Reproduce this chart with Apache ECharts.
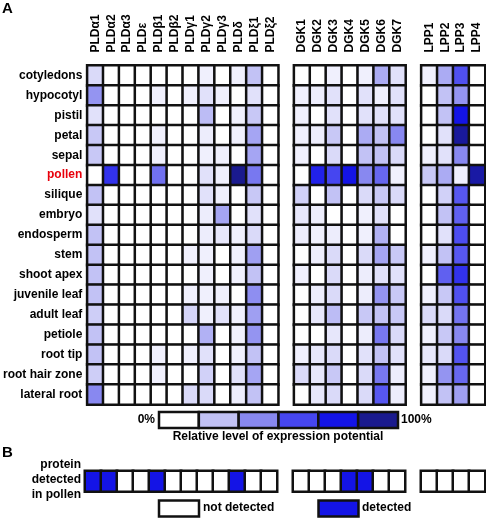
<!DOCTYPE html>
<html>
<head>
<meta charset="utf-8">
<script src="https://cdn.jsdelivr.net/npm/echarts@6/dist/echarts.min.js"></script>
<style>html,body{margin:0;padding:0;background:#fff}#c{width:486px;height:520px}</style>
</head>
<body>
<div id="c"></div>
<script>
const tissues = ['cotyledons','hypocotyl','pistil','petal','sepal','pollen','silique','embryo','endosperm','stem','shoot apex','juvenile leaf','adult leaf','petiole','root tip','root hair zone','lateral root'];
const pldGenes = ['PLDα1','PLDα2','PLDα3','PLDε','PLDβ1','PLDβ2','PLDγ1','PLDγ2','PLDγ3','PLDδ','PLDξ1','PLDξ2'];
const dgkGenes = ['DGK1','DGK2','DGK3','DGK4','DGK5','DGK6','DGK7'];
const lppGenes = ['LPP1','LPP2','LPP3','LPP4'];

// expression potential (%), rows follow tissues
const pldValues = [
  [12,0,0,0,0,0,0,5,0,5,20,0],
  [36,0,0,0,5,0,5,10,5,0,10,0],
  [10,0,0,0,0,0,0,22,0,5,18,0],
  [18,0,0,0,5,0,0,6,0,5,30,0],
  [18,0,0,0,5,0,0,5,5,0,30,0],
  [0,68,0,0,47,0,0,10,5,100,45,0],
  [20,0,0,0,0,0,0,10,5,0,18,0],
  [10,0,0,0,0,0,0,6,30,0,10,0],
  [20,0,0,0,0,0,0,6,8,5,12,0],
  [20,0,0,0,0,0,5,5,0,5,32,0],
  [20,0,0,0,0,0,0,5,0,5,20,0],
  [20,0,0,0,0,0,5,5,5,0,38,0],
  [16,0,0,0,0,0,14,5,10,5,32,0],
  [20,0,0,0,0,0,0,26,0,5,36,0],
  [20,0,0,0,5,0,5,10,0,5,20,0],
  [16,0,0,0,5,0,0,15,0,10,30,0],
  [40,0,0,0,0,0,12,12,0,6,20,0]
];
const dgkValues = [
  [0,0,5,0,5,28,10],
  [5,6,10,0,10,5,10],
  [5,0,10,0,10,10,10],
  [5,6,18,0,28,20,40],
  [5,0,12,0,20,20,12],
  [0,75,60,80,40,50,5],
  [15,0,20,0,12,18,12],
  [8,6,0,0,5,10,0],
  [6,5,6,0,5,26,0],
  [0,6,12,0,12,30,18],
  [5,0,12,0,6,10,10],
  [0,6,12,0,6,36,18],
  [0,8,22,0,18,20,18],
  [0,0,8,0,6,45,12],
  [5,8,12,0,10,20,10],
  [12,8,18,0,12,45,6],
  [0,8,12,0,12,55,6]
];
const lppValues = [
  [5,28,57,0],
  [0,20,36,0],
  [0,20,80,0],
  [0,10,97,0],
  [5,10,40,0],
  [18,28,5,95],
  [0,15,55,0],
  [0,20,52,0],
  [0,10,58,0],
  [5,20,55,0],
  [0,52,68,0],
  [5,18,57,0],
  [12,12,46,0],
  [5,18,40,0],
  [8,12,56,0],
  [5,36,50,0],
  [5,20,32,0]
];
// protein detected in pollen (1 = detected)
const pldProtein = [1,1,0,0,1,0,0,0,0,1,0,0];
const dgkProtein = [0,0,0,1,1,0,0];
const lppProtein = [0,0,0,0];

const legendColors = ['#ffffff','#c2c2f5','#8888f0','#4646f0','#1414e6','#1a1a8e'];
const FONT = 'Liberation Sans, Arial, sans-serif';

const columns = [...pldGenes, ' ', ...dgkGenes, '  ', ...lppGenes];
const offsets = [0, pldGenes.length + 1, pldGenes.length + dgkGenes.length + 2];

const heat = [];
[pldValues, dgkValues, lppValues].forEach((grp, g) => {
  grp.forEach((row, r) => row.forEach((v, c) => heat.push([offsets[g] + c, r, v])));
});
const prot = [];
[pldProtein, dgkProtein, lppProtein].forEach((grp, g) => {
  grp.forEach((v, c) => prot.push([offsets[g] + c, 0, v]));
});

const chart = echarts.init(document.getElementById('c'), null, {renderer: 'canvas'});
const GL = 85, GW = 400;
const cellStyle = {borderColor: '#111', borderWidth: 2.5};

const graphics = [];
const txt = (x, y, text, align, size) => graphics.push({
  type: 'text', x, y,
  style: {text, x: 0, y: 0, align: align, verticalAlign: 'middle', fill: '#000', font: 'bold ' + size + 'px ' + FONT}
});
txt(2, 9, 'A', 'left', 15);
txt(2, 453, 'B', 'left', 15);
txt(155, 420, '0%', 'right', 12);
txt(401, 420, '100%', 'left', 12);
txt(278, 437, 'Relative level of expression potential', 'center', 12);
txt(81, 465, 'protein', 'right', 12);
txt(81, 480, 'detected', 'right', 12);
txt(81, 495, 'in pollen', 'right', 12);
txt(203, 508, 'not detected', 'left', 12);
txt(362, 508, 'detected', 'left', 12);
const lx0 = 159, lw = (398 - 159) / legendColors.length;
legendColors.forEach((c, i) => graphics.push({
  type: 'rect', shape: {x: lx0 + i * lw, y: 412, width: lw, height: 16},
  style: {fill: c, stroke: '#111', lineWidth: 2.5}
}));
graphics.push({type: 'rect', shape: {x: 159, y: 500.5, width: 40, height: 16}, style: {fill: '#fff', stroke: '#111', lineWidth: 2.5}});
graphics.push({type: 'rect', shape: {x: 318.5, y: 500.5, width: 40, height: 16}, style: {fill: '#1414e6', stroke: '#111', lineWidth: 2.5}});

chart.setOption({
  animation: false,
  textStyle: {fontFamily: FONT},
  grid: [
    {left: GL, width: GW, top: 65.5, height: 339},
    {left: GL, width: GW, top: 471, height: 20.5}
  ],
  xAxis: [
    {type: 'category', gridIndex: 0, data: columns, position: 'top',
     axisLine: {show: false}, axisTick: {show: false}, splitLine: {show: false},
     axisLabel: {rotate: -90, align: 'left', verticalAlign: 'middle', interval: 0, margin: 13, fontSize: 12, fontWeight: 'bold', color: '#000', fontFamily: FONT}},
    {type: 'category', gridIndex: 1, data: columns, show: false}
  ],
  yAxis: [
    {type: 'category', gridIndex: 0, data: tissues, inverse: true,
     axisLine: {show: false}, axisTick: {show: false}, splitLine: {show: false},
     axisLabel: {interval: 0, margin: 5, fontSize: 12, fontWeight: 'bold', fontFamily: FONT,
       color: v => v === 'pollen' ? '#e8000b' : '#000'}},
    {type: 'category', gridIndex: 1, data: ['protein detected in pollen'], show: false}
  ],
  visualMap: [
    {type: 'continuous', min: 0, max: 100, show: false, seriesIndex: 0, dimension: 2,
     inRange: {color: legendColors}},
    {type: 'piecewise', show: false, seriesIndex: 1, dimension: 2,
     pieces: [{value: 0, color: '#ffffff'}, {value: 1, color: '#1414e6'}]}
  ],
  series: [
    {type: 'heatmap', xAxisIndex: 0, yAxisIndex: 0, data: heat, itemStyle: cellStyle, emphasis: {disabled: true}},
    {type: 'heatmap', xAxisIndex: 1, yAxisIndex: 1, data: prot, itemStyle: cellStyle, emphasis: {disabled: true}}
  ],
  graphic: graphics
});
</script>
</body>
</html>
